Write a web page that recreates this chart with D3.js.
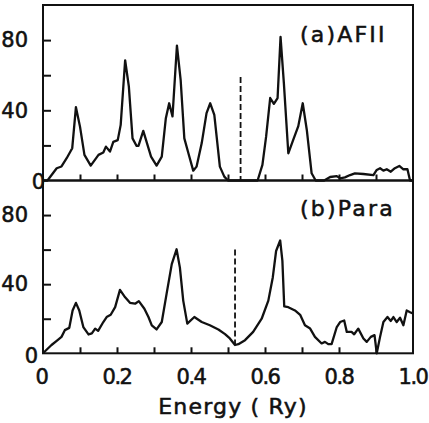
<!DOCTYPE html>
<html>
<head>
<meta charset="utf-8">
<script src="https://cdn.jsdelivr.net/npm/d3@7"></script>
<style>
    html, body { margin: 0; padding: 0; background: #fff; }
    svg { display: block; }
    text { font-family: "DejaVu Sans", sans-serif; fill: #111; stroke: #111; stroke-width: 0.55px; }
</style>
</head>
<body>
<svg id="main-svg" width="429" height="423"></svg>
<script>
// energy (Ry) and DOS values
const afEnergy = [0, 0.012, 0.037, 0.05, 0.064, 0.079, 0.089, 0.1, 0.112, 0.129, 0.15, 0.163, 0.17, 0.181, 0.19, 0.202, 0.21, 0.222, 0.232, 0.242, 0.253, 0.258, 0.271, 0.292, 0.307, 0.321, 0.332, 0.341, 0.35, 0.362, 0.372, 0.382, 0.393, 0.406, 0.415, 0.429, 0.442, 0.452, 0.463, 0.478, 0.49, 0.5, 0.58, 0.593, 0.603, 0.614, 0.624, 0.634, 0.642, 0.651, 0.663, 0.676, 0.69, 0.702, 0.713, 0.726, 0.737, 0.76, 0.776, 0.794, 0.803, 0.816, 0.83, 0.843, 0.866, 0.893, 0.902, 0.911, 0.92, 0.929, 0.94, 0.951, 0.963, 0.974, 0.985, 0.992, 1.0];
const afDos = [0, 0, 7, 8, 12.7, 18.4, 41.8, 30.7, 14.6, 8.5, 14.6, 16, 19.3, 16.5, 22, 23, 31.7, 68.5, 53.6, 24, 19.7, 19.7, 28.3, 13.6, 8.5, 13.6, 35.5, 44, 36.5, 76.9, 57.4, 24, 15.5, 5.6, 7.9, 21.3, 38.4, 44, 37.4, 7.9, 2.2, 0, 0, 8.9, 25, 47, 43.7, 47, 81.8, 55.5, 15.5, 23, 31, 44, 28.8, 4.1, 0, 0, 2, 2.5, 1.2, 1.8, 3.1, 4.1, 3.7, 3.1, 6, 7, 5.6, 6.4, 5, 7, 8.3, 6.4, 6.4, 0, 0];

const paraEnergy = [0, 0.023, 0.037, 0.05, 0.059, 0.071, 0.08, 0.089, 0.098, 0.109, 0.123, 0.132, 0.141, 0.149, 0.163, 0.172, 0.183, 0.195, 0.208, 0.222, 0.235, 0.249, 0.259, 0.274, 0.285, 0.294, 0.307, 0.321, 0.334, 0.348, 0.361, 0.37, 0.379, 0.39, 0.409, 0.429, 0.451, 0.474, 0.492, 0.505, 0.519, 0.528, 0.546, 0.568, 0.591, 0.609, 0.621, 0.63, 0.641, 0.647, 0.652, 0.663, 0.681, 0.695, 0.708, 0.722, 0.735, 0.753, 0.762, 0.771, 0.78, 0.794, 0.803, 0.814, 0.821, 0.834, 0.841, 0.852, 0.866, 0.875, 0.886, 0.896, 0.902, 0.911, 0.92, 0.931, 0.94, 0.947, 0.956, 0.965, 0.974, 0.983, 0.992, 1.0];
const paraDos = [0, 4.8, 7.2, 9.5, 13.4, 14.7, 24.8, 29.2, 24.8, 15.2, 10.9, 11.5, 14.3, 13, 18.1, 21, 22.3, 26.7, 36.7, 32.4, 29.2, 28.7, 30.2, 25.8, 21, 16.2, 13.8, 18.1, 34.4, 51.6, 60.2, 49.6, 30.5, 17.2, 21, 18.1, 16.2, 13.8, 11.1, 8.6, 4.8, 5.3, 7.6, 12.4, 20, 30.5, 43.9, 59.2, 65.3, 53.5, 27.1, 26.7, 24.8, 22.3, 16.2, 14.3, 9.5, 5.7, 6.6, 5.3, 5.3, 15.2, 18.1, 19, 12.4, 12.4, 11, 14.3, 8.6, 6.6, 9.5, 10.5, 0, 9.5, 18.1, 21, 18.7, 21, 18.1, 20.6, 16.2, 24.8, 23.8, 23];

// Fermi level markers: [energy, top of dashed line]
const afFermi = [0.534, 59];
const paraFermi = [0.519, 60];

const xTicks = [0.1, 0.2, 0.3, 0.4, 0.5, 0.6, 0.7, 0.8, 0.9];
const xLabels = [0, 0.2, 0.4, 0.6, 0.8, 1.0];
const yTicks = [20, 40, 60, 80];
const yLabels = [40, 80];

const svg = d3.select("#main-svg");

const x = d3.scaleLinear().domain([0, 1]).range([43, 413]);
const yTop = d3.scaleLinear().domain([0, 100]).range([180.5, 5]);
const yBot = d3.scaleLinear().domain([0, 100]).range([353.3, 180.5]);

const drawPanel = (y, energy, dos, fermi, label, labelY) => {
    const g = svg.append('g');

    // inward ticks on the baseline and the left axis
    g.append('g')
        .attr('transform', `translate(0,${y(0)})`)
        .call(d3.axisBottom(x).tickValues(xTicks).tickSize(-6).tickFormat(''))
        .call(a => a.select('.domain').remove())
        .call(a => a.selectAll('line').attr('stroke', '#111').attr('stroke-width', 2));

    g.append('g')
        .attr('transform', `translate(${x(0)},0)`)
        .call(d3.axisLeft(y).tickValues(yTicks).tickSize(-8).tickPadding(15)
            .tickFormat(d => yLabels.includes(d) ? d : ''))
        .call(a => a.select('.domain').remove())
        .call(a => a.selectAll('line').attr('stroke', '#111').attr('stroke-width', 2))
        .call(a => a.selectAll('text').attr('font-size', 21).attr('font-family', '"DejaVu Sans", sans-serif').attr('fill', '#111'));

    const line = d3.line()
        .x((d, i) => x(energy[i]))
        .y(d => y(d));

    g.append('path')
        .datum(dos)
        .attr('d', line)
        .attr('fill', 'none')
        .attr('stroke', '#111')
        .attr('stroke-width', 2.3)
        .attr('stroke-linejoin', 'round');

    // dashed Fermi level line, down to the curve
    const i1 = d3.bisectLeft(energy, fermi[0]);
    const i0 = Math.max(0, i1 - 1);
    const t = (fermi[0] - energy[i0]) / ((energy[i1] - energy[i0]) || 1);
    const base = d3.interpolateNumber(dos[i0], dos[i1])(t);
    g.append('line')
        .attr('x1', x(fermi[0])).attr('x2', x(fermi[0]))
        .attr('y1', y(fermi[1])).attr('y2', y(base))
        .attr('stroke', '#111')
        .attr('stroke-width', 1.8)
        .attr('stroke-dasharray', '6,3');

    g.append('text')
        .attr('x', 300)
        .attr('y', labelY)
        .attr('font-size', 22)
        .attr('letter-spacing', 2.2)
        .text(label);
};

drawPanel(yTop, afEnergy, afDos, afFermi, '(a)AFII', 42);
drawPanel(yBot, paraEnergy, paraDos, paraFermi, '(b)Para', 216);

// frame
svg.append('rect')
    .attr('x', x(0)).attr('y', yTop(100))
    .attr('width', x(1) - x(0)).attr('height', yBot(0) - yTop(100))
    .attr('fill', 'none').attr('stroke', '#111').attr('stroke-width', 2);
svg.append('line')
    .attr('x1', x(0)).attr('x2', x(1))
    .attr('y1', yTop(0)).attr('y2', yTop(0))
    .attr('stroke', '#111').attr('stroke-width', 2.4);

// zero labels sit apart from the axis ticks
svg.append('text').attr('x', 45).attr('y', yTop(0) + 8).attr('text-anchor', 'end')
    .attr('font-size', 21).text('0');
svg.append('text').attr('x', 38).attr('y', yBot(0) + 10).attr('text-anchor', 'end')
    .attr('font-size', 21).text('0');

// x labels under the lower panel
svg.append('g')
    .selectAll('text')
    .data(xLabels)
    .join('text')
    .attr('x', d => x(d) + (d === 0 ? -1.5 : 0))
    .attr('y', 384)
    .attr('text-anchor', 'middle')
    .attr('font-size', 21)
    .attr('letter-spacing', -1.5)
    .text(d => d === 0 ? '0' : d.toFixed(1));

svg.append('text')
    .attr('x', 233)
    .attr('y', 414)
    .attr('text-anchor', 'middle')
    .attr('font-size', 22)
    .attr('letter-spacing', 1.2)
    .text('Energy ( Ry)');
</script>
</body>
</html>
